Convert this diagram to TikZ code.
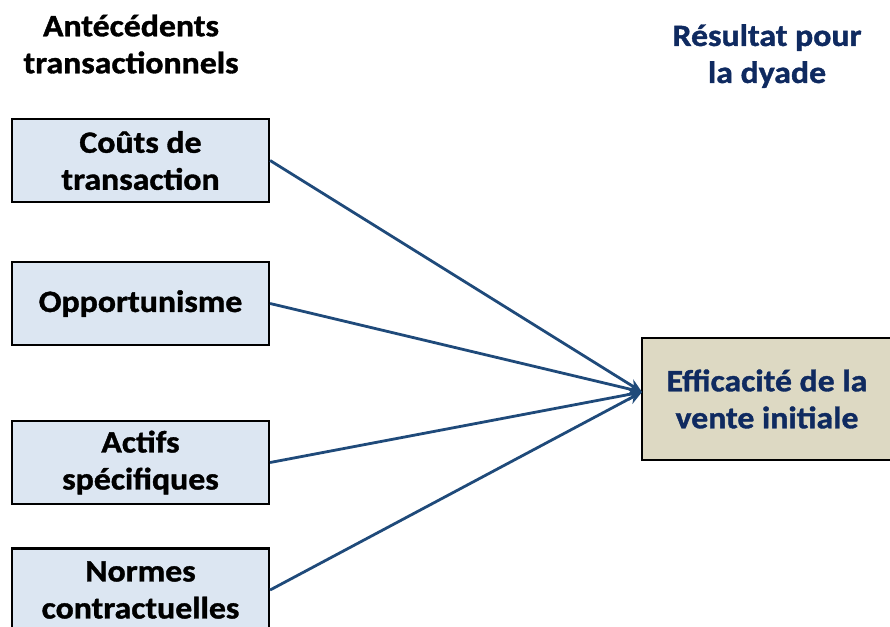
\documentclass[tikz,border=0pt]{standalone}
\usepackage{fontspec}
\setmainfont{Carlito}[BoldFeatures={FakeStretch=1.09,FakeBold=1.2}]
\usetikzlibrary{arrows.meta}
\definecolor{boxblue}{HTML}{DCE6F2}
\definecolor{boxtan}{HTML}{DDD9C3}
\definecolor{navy}{HTML}{0F2A60}
\definecolor{arrowc}{HTML}{1F4A7A}
\tikzset{
  txt/.style={font=\fontsize{31}{37}\selectfont\bfseries},
  antbox/.style={txt, draw=black, line width=2.2pt, fill=boxblue, minimum width=257pt, minimum height=83pt, inner sep=0pt, align=center},
  resbox/.style={txt, draw=black, line width=2.2pt, fill=boxtan, minimum width=250pt, minimum height=122pt, inner sep=0pt, align=center, text=navy},
  head/.style={txt, align=center},
  link/.style={draw=arrowc, line width=2.8pt, -{Stealth[length=14pt,width=12pt]}}
}
\begin{document}
\begin{tikzpicture}[x=1pt,y=-1pt]
\useasboundingbox (0,0) rectangle (890,626);
\clip (0,0) rectangle (890,626);
\node[head] (h1) at (131,44) {Antécédents\\transactionnels};
\node[head, text=navy] (h2) at (767,56) {Résultat pour\\la dyade};
\node[antbox] (a1) at (140.5,160.5) {Coûts de\\transaction};
\node[antbox] (a2) at (140.5,303.5) {Opportunisme};
\node[antbox] (a3) at (140.5,462.5) {Actifs\\spécifiques};
\node[antbox] (a4) at (140.5,590) {Normes\\contractuelles};
\node[resbox] (r) at (767,399) {Efficacité de la\\vente initiale};
\coordinate (t) at (642,392);
\draw[link] (a1.east) -- (t);
\draw[link] (a2.east) -- (t);
\draw[link] (a3.east) -- (t);
\draw[link] (a4.east) -- (t);
\end{tikzpicture}
\end{document}
